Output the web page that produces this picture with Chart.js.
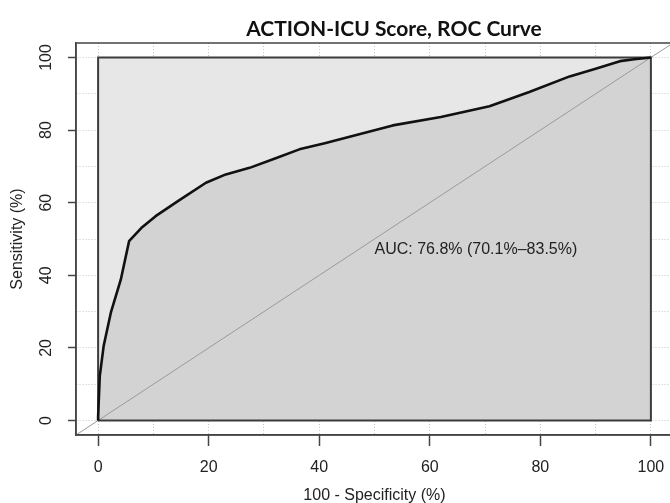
<!DOCTYPE html>
<html><head><meta charset="utf-8">
<script src="https://cdn.jsdelivr.net/npm/chart.js@4/dist/chart.umd.min.js"></script>
<style>html,body{margin:0;padding:0;overflow:hidden;background:#fff;width:670px;height:503px}</style>
</head><body>
<canvas id="c" width="680" height="503" style="display:block;width:680px;height:503px"></canvas>
<script>
// ---- data ----
const fpr = [0, 0, 0.3, 1.0, 2.3, 4.1, 5.6, 7.8, 10.4, 14.5, 19.5, 23.1, 27.4, 32.0, 36.4, 41.0, 45.5, 53.3, 62.0, 70.8, 78.0, 85.3, 90.0, 94.4, 97.0, 100];
const tpr = [0, 1.0, 12.2, 20.5, 29.7, 38.8, 49.4, 53.0, 56.3, 60.5, 65.5, 67.8, 69.6, 72.2, 74.7, 76.4, 78.2, 81.3, 83.6, 86.6, 90.5, 94.8, 96.9, 99.0, 99.5, 100];
const xTickLabels = [0, 20, 40, 60, 80, 100];
const yTickLabels = [0, 20, 40, 60, 80, 100];
const axisRange = [-4, 104];
const squareX = [0, 100];
const squareY = [0, 100];
const diagonal = [-4, 104];
const titleText = 'ACTION-ICU Score, ROC Curve';
const xTitle = '100 - Specificity (%)';
const yTitle = 'Sensitivity (%)';
const aucText = 'AUC: 76.8% (70.1%\u201383.5%)';
const aucAt = [50, 50];

const rocPts = fpr.map((x, i) => ({x, y: tpr[i]}));
const LBL = '16px "Liberation Sans", Arial, sans-serif';

const textPlugin = {
  id: 'texts',
  afterDraw(chart) {
    const {ctx, chartArea: a, scales: {x, y}} = chart;
    ctx.save();
    // outer box
    ctx.strokeStyle = '#444'; ctx.lineWidth = 1.5;
    ctx.strokeRect(a.left, a.top, a.right - a.left, a.bottom - a.top);
    ctx.fillStyle = '#222';
    ctx.font = LBL;
    // x tick labels
    ctx.textAlign = 'center'; ctx.textBaseline = 'alphabetic';
    xTickLabels.forEach(v => ctx.fillText(String(v), x.getPixelForValue(v), 472));
    // y tick labels (rotated)
    yTickLabels.forEach(v => {
      ctx.save();
      ctx.translate(51, y.getPixelForValue(v));
      ctx.rotate(-Math.PI / 2);
      ctx.fillText(String(v), 0, 0);
      ctx.restore();
    });
    // axis titles
    ctx.fillText(xTitle, (a.left + a.right) / 2, 499.5);
    ctx.save();
    ctx.translate(22, (a.top + a.bottom) / 2);
    ctx.rotate(-Math.PI / 2);
    ctx.fillText(yTitle, 0, 0);
    ctx.restore();
    // AUC label
    ctx.textAlign = 'left';
    ctx.fillText(aucText, x.getPixelForValue(aucAt[0]), y.getPixelForValue(aucAt[1]) + 15);
    // title
    ctx.fillStyle = '#111';
    ctx.font = 'bold 21px Lato, "Open Sans", sans-serif';
    ctx.textAlign = 'center';
    ctx.fillText(titleText, 394, 36);
    ctx.restore();
  }
};

const tickCol = c => (c.tick && c.tick.value % 20 === 0) ? '#444' : 'rgba(0,0,0,0)';

new Chart(document.getElementById('c'), {
  type: 'line',
  data: {
    datasets: [
      { data: [{x: squareX[0], y: squareY[1]}, {x: squareX[1], y: squareY[1]}],
        fill: {value: 0}, backgroundColor: '#e7e7e7', borderWidth: 0, pointRadius: 0, order: 5 },
      { data: rocPts, fill: {value: 0}, backgroundColor: '#d3d3d3', borderWidth: 0, pointRadius: 0, order: 4 },
      { data: [{x: diagonal[0], y: diagonal[0]}, {x: diagonal[1], y: diagonal[1]}],
        fill: false, borderColor: '#9a9a9a', borderWidth: 1, pointRadius: 0, order: 3 },
      { data: [{x: squareX[0], y: squareY[0]}, {x: squareX[0], y: squareY[1]}, {x: squareX[1], y: squareY[1]}, {x: squareX[1], y: squareY[0]}, {x: squareX[0], y: squareY[0]}],
        fill: false, borderColor: '#3c3c3c', borderWidth: 2, pointRadius: 0, order: 2 },
      { data: rocPts, fill: false, borderColor: '#111', borderWidth: 2.6, pointRadius: 0, order: 1, borderJoinStyle: 'round' }
    ]
  },
  options: {
    responsive: false, animation: false, devicePixelRatio: 1,
    layout: {padding: {top: 43, right: 7, left: 0, bottom: 0}},
    plugins: {legend: {display: false}, tooltip: {enabled: false}, title: {display: false}},
    elements: {line: {tension: 0}},
    scales: {
      x: {
        type: 'linear', position: 'bottom', min: axisRange[0], max: axisRange[1],
        ticks: {display: false, stepSize: 10, includeBounds: false, autoSkip: false},
        grid: {color: '#c4c4c4', lineWidth: 1, drawTicks: true, tickLength: 11, tickColor: tickCol, tickWidth: 1.5, tickBorderDash: []},
        border: {display: true, color: '#444', width: 1.5, dash: [1, 2]},
        afterFit: s => { s.height = 68; }
      },
      y: {
        type: 'linear', position: 'left', min: axisRange[0], max: axisRange[1],
        ticks: {display: false, stepSize: 10, includeBounds: false, autoSkip: false},
        grid: {color: '#c4c4c4', lineWidth: 1, drawTicks: true, tickLength: 8, tickColor: tickCol, tickWidth: 1.5, tickBorderDash: []},
        border: {display: true, color: '#444', width: 1.5, dash: [1, 2]},
        afterFit: s => { s.width = 76; }
      }
    }
  },
  plugins: [textPlugin]
});
</script>
</body></html>
